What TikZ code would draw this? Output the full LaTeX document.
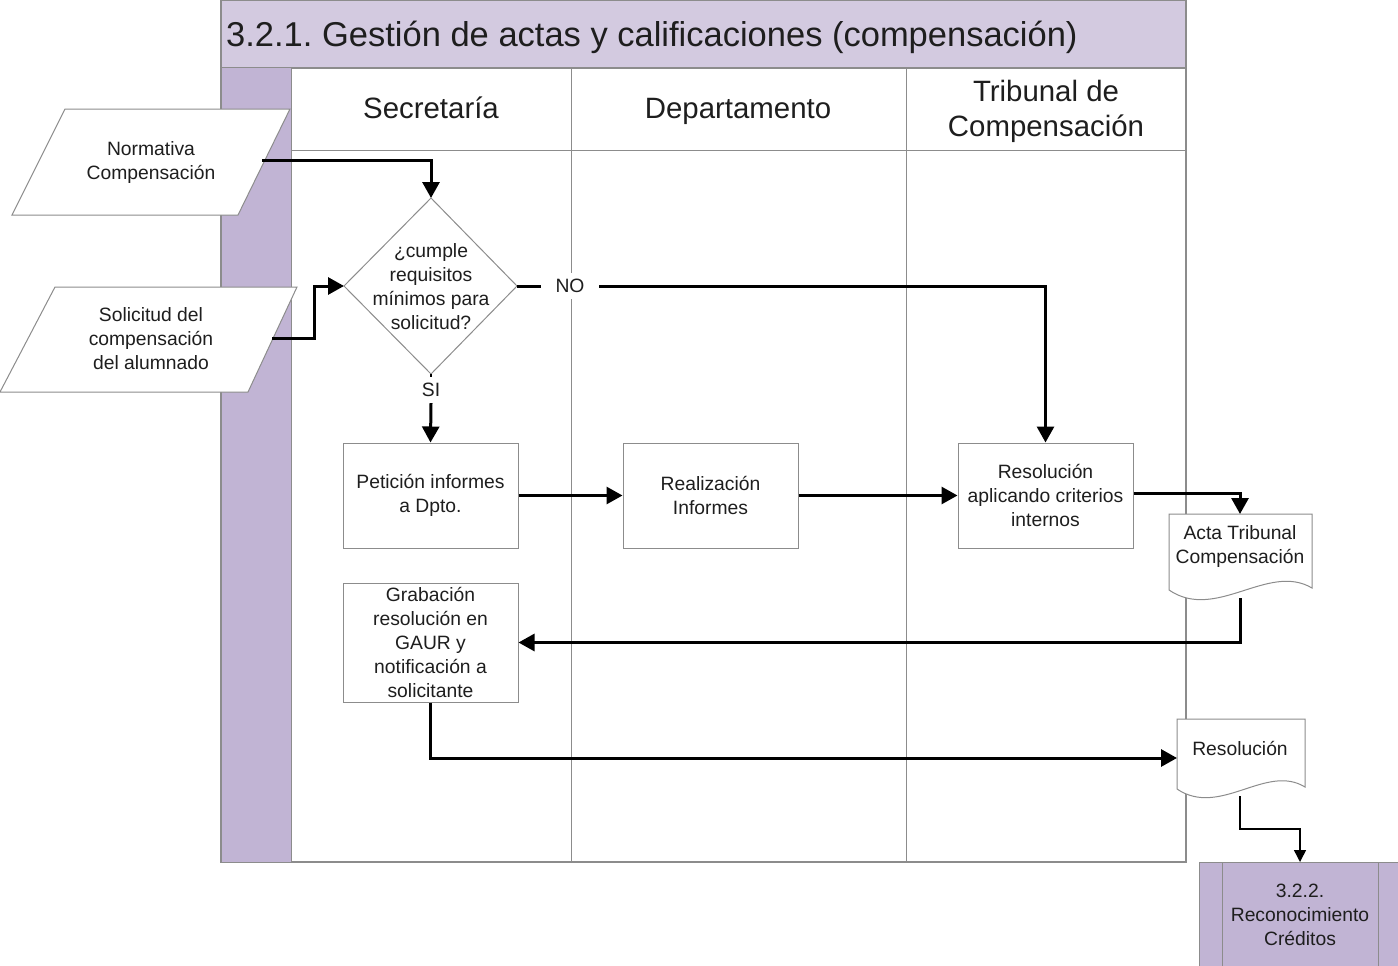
\documentclass[tikz,border=0pt]{standalone}
\usepackage{fontspec}
\setmainfont{Liberation Sans}
\usetikzlibrary{arrows.meta}
\definecolor{lav}{HTML}{D3CAE0}
\definecolor{lavd}{HTML}{C1B4D4}
\definecolor{edge}{HTML}{8C8C8C}
\definecolor{txt}{HTML}{1E1E1E}
\newcommand\dgbody{\fontsize{19.3}{24}\selectfont}
\newcommand\dghead{\fontsize{29.4}{35}\selectfont}
\newcommand\dgtitle{\fontsize{34.5}{40}\selectfont}
\frenchspacing
\begin{document}
\begin{tikzpicture}[x=1pt,y=-1pt,
  box/.style={draw=edge, fill=white, line width=1pt, minimum width=175pt, inner sep=0pt, align=center, font=\dgbody, text=txt},
  lbl/.style={align=center, font=\dgbody, text=txt, inner sep=0pt},
  hd/.style={align=center, font=\dghead, text=txt, inner sep=0pt, text height=21pt, text depth=7pt},
  shp/.style={draw=edge, fill=white, line width=1pt},
  lane/.style={draw=edge, line width=1pt},
  conn/.style={line width=3pt, -{Triangle[length=16pt,width=17pt]}},
  plain/.style={line width=3pt},
  thin/.style={line width=1.5pt, -{Triangle[length=12pt,width=12pt]}}]
\useasboundingbox (0,0) rectangle (1398,966);
% pool
\filldraw[fill=lav, draw=edge, line width=1.5pt] (221,0) rectangle (1186,68);
\node[anchor=west, font=\dgtitle, text=txt, inner sep=0pt] (title) at (226,37) {3.2.1. Gestión de actas y calificaciones (compensación)};
\filldraw[fill=white, draw=edge, line width=1.5pt] (221,68) rectangle (1186,862);
\filldraw[fill=lavd, draw=edge, line width=1pt] (221,68) rectangle (291,862);
\draw[lane] (291,150) -- (1186,150);
\draw[lane] (571,68) -- (571,862);
\draw[lane] (906,68) -- (906,862);
\node[hd] (h1) at (431,111) {Secretaría};
\node[hd] (h2) at (738,111) {Departamento};
\node[lbl, font=\dghead] (h3) at (1046,111) {Tribunal de\\Compensación};
% inputs
\draw[shp] (65,109) -- (290,109) -- (238,215) -- (12,215) -- cycle;
\node[lbl] (norm) at (151,163) {Normativa\\Compensación};
\coordinate (normR) at (262,160);
\draw[shp] (55,287) -- (297,287) -- (248,392) -- (0,392) -- cycle;
\node[lbl] (sol) at (151,339) {Solicitud del\\compensación\\del alumnado};
\coordinate (solR) at (272,338);
% decision
\coordinate (dtop) at (431,198);
\coordinate (dbot) at (431,374);
\coordinate (dleft) at (344,286);
\coordinate (dright) at (517,286);
\draw[shp] (dtop) -- (dright) -- (dbot) -- (dleft) -- cycle;
\node[lbl] (dec) at (431,286.5) {¿cumple\\requisitos\\mínimos para\\solicitud?};
\node[lbl, fill=white, minimum width=58pt, minimum height=26pt] (no) at (570,286) {NO};
\node[lbl, minimum width=20pt, minimum height=26pt] (si) at (431,390) {SI};
% process boxes
\node[box, minimum height=105pt] (pet) at (430.5,495.5) {Petición informes\\a Dpto.};
\node[box, minimum height=105pt] (real) at (710.5,495.5) {Realización\\Informes};
\node[box, minimum height=105pt] (res) at (1045.5,495.5) {Resolución\\aplicando criterios\\internos};
\node[box, minimum height=119pt] (grab) at (430.5,642.5) {Grabación\\resolución en\\GAUR y\\notificación a\\solicitante};
% documents
\draw[shp] (1169,514) -- (1312,514) -- (1312,588) .. controls (1268,562) and (1216,622) .. (1169,590) -- cycle;
\node[lbl] (acta) at (1240,547) {Acta Tribunal\\Compensación};
\coordinate (actaT) at (1240,514);
\coordinate (actaB) at (1240,598);
\draw[shp] (1177,719) -- (1305,719) -- (1305,787) .. controls (1266,763) and (1220,818) .. (1177,789) -- cycle;
\node[lbl] (rdoc) at (1240,748) {Resolución};
\coordinate (rdocL) at (1177,758);
\coordinate (rdocB) at (1240,796);
% subprocess
\fill[lavd] (1199,862) rectangle (1398,966);
\draw[edge, line width=1pt] (1199,966) -- (1199,862) -- (1398,862);
\draw[edge, line width=1pt] (1222,862) -- (1222,966);
\draw[edge, line width=1pt] (1378,862) -- (1378,966);
\node[lbl] (sub) at (1300,915) {3.2.2.\\Reconocimiento\\Créditos};
\coordinate (subT) at (1300,862);
% connectors
\draw[conn] (normR) -| (dtop);
\draw[conn] (solR) -- (314,338) |- (dleft);
\draw[plain] (dright) -- (no.west);
\draw[conn] (no.east) -| (res.north);
\draw[line width=1.5pt] (dbot) -- (si.north);
\draw[conn] (si.south) -- (pet.north);
\draw[conn] (pet.east) -- (real.west);
\draw[conn] (real.east) -- (res.west);
\draw[conn] (res.east |- 0,493) -| (actaT);
\draw[conn] (actaB) |- (grab.east);
\draw[conn] (grab.south) |- (rdocL);
\draw[thin] (rdocB) -- (1240,829) -| (subT);
\end{tikzpicture}
\end{document}
